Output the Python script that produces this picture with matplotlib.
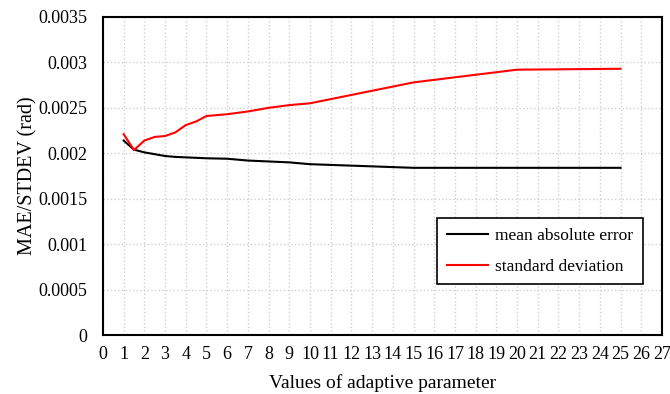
import matplotlib
matplotlib.use('Agg')
from matplotlib import pyplot as plt

# values of adaptive parameter
params = [1, 1.5, 2, 2.5, 3, 3.5, 4, 4.5, 5, 6, 7, 8, 9, 10, 15, 20, 25]
# mean absolute error (rad)
mae = [0.00214, 0.00204, 0.00201, 0.00199, 0.00197, 0.00196, 0.001955,
       0.00195, 0.001945, 0.00194, 0.00192, 0.00191, 0.0019, 0.00188,
       0.00184, 0.00184, 0.00184]
# standard deviation (rad)
stdev = [0.00221, 0.002036, 0.00214, 0.00218, 0.00219, 0.00223, 0.00231,
         0.00235, 0.00241, 0.00243, 0.00246, 0.0025, 0.00253, 0.00255,
         0.00278, 0.00292, 0.00293]

y_ticks = [0, 0.0005, 0.001, 0.0015, 0.002, 0.0025, 0.003, 0.0035]
y_labels = ['0', '0.0005', '0.001', '0.0015', '0.002', '0.0025', '0.003',
            '0.0035']

plt.rcParams['font.family'] = ['Liberation Serif', 'DejaVu Serif']
plt.rcParams['font.size'] = 13

fig = plt.figure(figsize=(6.7, 3.94), dpi=100)
ax = fig.add_axes([0.1537, 0.1497, 0.8343, 0.8072])

ax.plot(params, mae, color='black', lw=1.5, label='mean absolute error')
ax.plot(params, stdev, color='red', lw=1.5, label='standard deviation')

ax.set_xlim(0, 27)
ax.set_ylim(0, 0.0035)
ax.set_xticks(range(28))
ax.set_yticks(y_ticks)
ax.set_yticklabels(y_labels)
ax.tick_params(axis='y', length=0, pad=11, labelsize=13)
ax.tick_params(axis='x', length=0, pad=8, labelsize=13)
ax.grid(True, color='#d0d0d0', linestyle=':', linewidth=1)
ax.set_axisbelow(True)
for s in ax.spines.values():
    s.set_linewidth(1.5)
    s.set_color('black')

ax.set_xlabel('Values of adaptive parameter', fontsize=14, labelpad=8)
ax.set_ylabel('MAE/STDEV (rad)', fontsize=14.5, labelpad=1)

leg = ax.legend(loc='upper left', bbox_to_anchor=(0.5975, 0.368),
                fancybox=False, framealpha=1, edgecolor='black',
                handlelength=2.4, labelspacing=0.85, borderpad=0.55,
                handletextpad=0.4, borderaxespad=0, fontsize=12.5)
leg.get_frame().set_linewidth(1.2)

plt.savefig('out.png', dpi=100)
